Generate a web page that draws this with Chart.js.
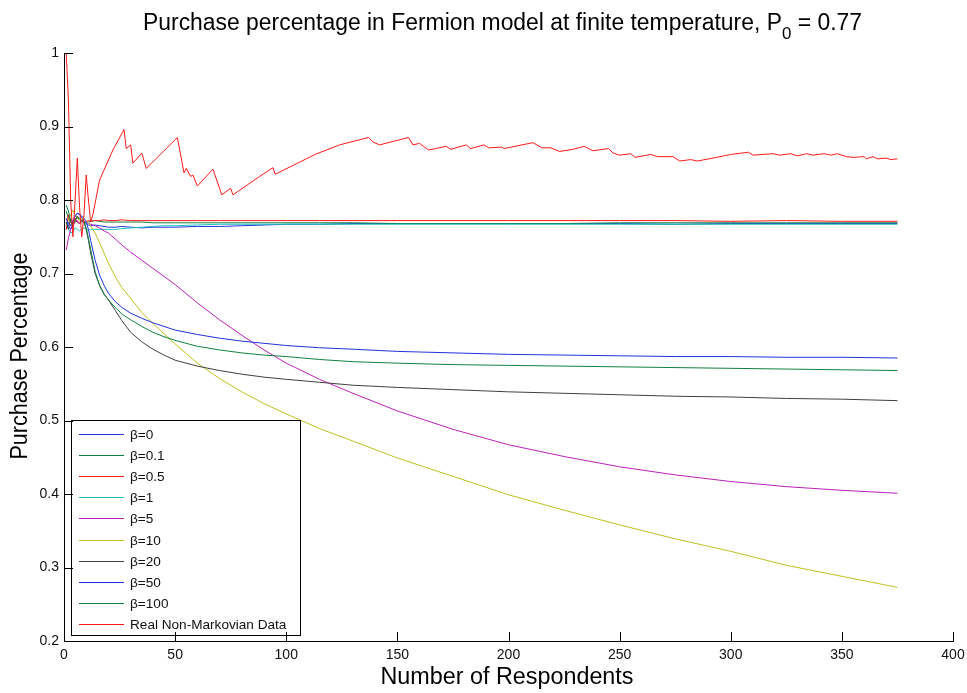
<!DOCTYPE html>
<html>
<head>
<meta charset="utf-8">
<script src="https://cdn.jsdelivr.net/npm/chart.js@4.4.1/dist/chart.umd.min.js"></script>
<style>
  html, body { margin: 0; padding: 0; background: #fff; }
</style>
</head>
<body>
<canvas id="chart" width="967" height="693"></canvas>
<script>
// respondent counts where the model curves are sampled
const respondents = [1,2,3,4,5,6,7,8,9,10,11,12,14,16,18,20,23,26,30,35,40,45,50,60,70,80,90,100,115,130,150,175,200,225,250,275,300,325,350,375]

const beta0   = [0.760,0.770,0.765,0.772,0.778,0.782,0.781,0.776,0.770,0.768,0.766,0.765,0.766,0.765,0.764,0.763,0.763,0.764,0.763,0.762,0.763,0.763,0.763,0.764,0.764,0.765,0.766,0.767,0.767,0.768,0.768,0.768,0.768,0.768,0.768,0.767,0.768,0.768,0.768,0.768]
const beta01  = [0.785,0.775,0.770,0.768,0.772,0.770,0.768,0.770,0.771,0.769,0.770,0.771,0.772,0.771,0.770,0.770,0.770,0.770,0.770,0.770,0.769,0.769,0.769,0.769,0.769,0.769,0.769,0.769,0.769,0.769,0.768,0.768,0.768,0.768,0.769,0.769,0.769,0.769,0.769,0.769]
const beta05  = [0.760,0.780,0.770,0.765,0.775,0.770,0.768,0.773,0.770,0.771,0.772,0.771,0.772,0.772,0.773,0.772,0.772,0.773,0.772,0.772,0.772,0.772,0.772,0.772,0.772,0.772,0.772,0.772,0.772,0.772,0.772,0.772,0.772,0.772,0.772,0.772,0.771,0.772,0.771,0.771]
const beta1   = [0.770,0.760,0.755,0.757,0.762,0.760,0.758,0.760,0.762,0.760,0.759,0.760,0.760,0.760,0.760,0.760,0.760,0.761,0.762,0.763,0.764,0.765,0.765,0.766,0.767,0.767,0.767,0.767,0.767,0.767,0.767,0.767,0.767,0.767,0.767,0.767,0.767,0.767,0.767,0.767]
const beta5   = [0.732,0.748,0.760,0.765,0.770,0.772,0.768,0.772,0.770,0.770,0.768,0.767,0.765,0.762,0.758,0.755,0.747,0.739,0.729,0.718,0.707,0.696,0.685,0.660,0.637,0.616,0.596,0.578,0.556,0.537,0.513,0.488,0.467,0.451,0.437,0.426,0.417,0.410,0.405,0.401]
const beta10  = [0.765,0.772,0.780,0.786,0.780,0.775,0.772,0.775,0.772,0.770,0.768,0.765,0.755,0.742,0.728,0.714,0.696,0.681,0.666,0.647,0.632,0.618,0.604,0.578,0.557,0.539,0.523,0.509,0.489,0.472,0.449,0.424,0.399,0.378,0.358,0.339,0.322,0.303,0.288,0.273]
const beta20  = [0.770,0.760,0.775,0.768,0.772,0.778,0.775,0.772,0.770,0.760,0.745,0.728,0.700,0.684,0.672,0.664,0.650,0.636,0.620,0.607,0.597,0.589,0.582,0.574,0.568,0.563,0.559,0.556,0.552,0.548,0.545,0.542,0.539,0.537,0.535,0.533,0.532,0.530,0.529,0.527]
const beta50  = [0.775,0.765,0.760,0.770,0.778,0.782,0.780,0.778,0.775,0.770,0.760,0.745,0.718,0.698,0.684,0.673,0.662,0.654,0.646,0.639,0.633,0.628,0.623,0.617,0.612,0.608,0.605,0.602,0.599,0.597,0.594,0.592,0.590,0.589,0.588,0.587,0.587,0.586,0.586,0.585]
const beta100 = [0.793,0.785,0.770,0.765,0.772,0.776,0.774,0.772,0.770,0.762,0.748,0.733,0.703,0.684,0.672,0.664,0.654,0.645,0.637,0.628,0.620,0.614,0.609,0.601,0.596,0.592,0.589,0.587,0.583,0.580,0.578,0.576,0.575,0.574,0.573,0.572,0.571,0.570,0.569,0.568]

// survey data, cumulative purchase share
const realX = [1,2,3,4,5,6,7,8,9,10,11,12,13,16,22,27,28,30,31,35,37,51,54,55,57,58,60,67,71,75,76,88,94,95,113,124,137,139,142,155,157,160,164,172,174,181,183,189,191,197,198,211,215,219,223,229,234,238,245,247,250,255,257,264,267,274,277,282,285,292,300,308,310,319,322,327,330,334,337,342,345,348,352,355,360,361,364,366,370,372,375]
const realY = [1.000,0.935,0.800,0.750,0.800,0.857,0.790,0.750,0.780,0.834,0.800,0.770,0.780,0.827,0.868,0.896,0.870,0.875,0.850,0.864,0.843,0.885,0.837,0.843,0.832,0.834,0.819,0.842,0.807,0.816,0.807,0.832,0.844,0.835,0.862,0.875,0.885,0.879,0.875,0.885,0.875,0.877,0.868,0.873,0.869,0.875,0.870,0.875,0.871,0.872,0.870,0.878,0.871,0.871,0.866,0.869,0.873,0.867,0.870,0.864,0.861,0.863,0.858,0.862,0.859,0.859,0.853,0.855,0.853,0.857,0.862,0.865,0.861,0.863,0.861,0.863,0.860,0.863,0.861,0.863,0.861,0.863,0.859,0.858,0.859,0.856,0.859,0.856,0.857,0.855,0.856]

const seriesNames = ['β=0','β=0.1','β=0.5','β=1','β=5','β=10','β=20','β=50','β=100','Real Non-Markovian Data']
const seriesColors = ['#2233dd','#118040','#ff1a1a','#20c0c0','#bb22bb','#c0c020','#404040','#2233dd','#118040','#ff1a1a']

const xTickValues = [0,50,100,150,200,250,300,350,400]
const yTickValues = [0.2,0.3,0.4,0.5,0.6,0.7,0.8,0.9,1]

const modelSeries = [beta0, beta01, beta05, beta1, beta5, beta10, beta20, beta50, beta100]

function toPoints(xs, ys) {
    return xs.map((x, i) => ({x: x, y: ys[i]}))
}

const datasets = modelSeries.map((ys, i) => ({
    label: seriesNames[i],
    data: toPoints(respondents, ys),
    borderColor: seriesColors[i],
    order: 20 - i
}))
datasets.push({
    label: seriesNames[9],
    data: toPoints(realX, realY),
    borderColor: seriesColors[9],
    order: 1
})
datasets.forEach(d => {
    d.showLine = true
    d.borderWidth = 1
    d.pointRadius = 0
    d.tension = 0
})

const FONT = '"Liberation Sans", Arial, sans-serif'

// text squeezed to a given width, like the narrow Helvetica of the old plots
function drawFitted(ctx, text, cx, cy, width, font) {
    ctx.font = font
    const w = ctx.measureText(text).width
    ctx.save()
    ctx.translate(cx, cy)
    ctx.scale(width / w, 1)
    ctx.textAlign = 'center'
    ctx.textBaseline = 'middle'
    ctx.fillText(text, 0, 0)
    ctx.restore()
}

const matlabLook = {
    id: 'matlabLook',
    afterDatasetsDraw(chart) {
        const ctx = chart.ctx
        // legend box in the lower left corner
        const left = 71.5, top = 420.5, w = 229, h = 215
        ctx.save()
        ctx.fillStyle = '#fff'
        ctx.fillRect(left, top, w, h)
        ctx.strokeStyle = '#000'
        ctx.lineWidth = 1
        ctx.strokeRect(left, top, w, h)
        ctx.font = '13.6px ' + FONT
        ctx.textBaseline = 'middle'
        ctx.fillStyle = '#111'
        chart.data.datasets.forEach((d, i) => {
            const yy = Math.round(433.5 + i * 21.2) + 0.5
            ctx.strokeStyle = d.borderColor
            ctx.beginPath()
            ctx.moveTo(79, yy)
            ctx.lineTo(124, yy)
            ctx.stroke()
            ctx.fillText(d.label, 130, yy + 0.5)
        })
        ctx.restore()
    },
    afterDraw(chart) {
        const {ctx, chartArea: a, scales: {x, y}} = chart
        ctx.save()
        // tick marks point into the plot
        ctx.strokeStyle = '#000'
        ctx.lineWidth = 1
        ctx.beginPath()
        xTickValues.forEach(v => {
            const px = Math.round(x.getPixelForValue(v)) + 0.5
            ctx.moveTo(px, a.bottom)
            ctx.lineTo(px, a.bottom - 9)
        })
        yTickValues.forEach(v => {
            const py = Math.round(y.getPixelForValue(v)) + 0.5
            ctx.moveTo(a.left, py)
            ctx.lineTo(a.left + 9, py)
        })
        ctx.stroke()

        ctx.fillStyle = '#000'
        // title with subscript P0
        const big = '23px ' + FONT, small = '17px ' + FONT
        const head = 'Purchase percentage in Fermion model at finite temperature, P'
        const sub = '0'
        const tail = ' = 0.77'
        ctx.font = big
        const wHead = ctx.measureText(head).width
        const wTail = ctx.measureText(tail).width
        ctx.font = small
        const wSub = ctx.measureText(sub).width
        const natural = wHead + wSub + wTail
        const target = 719
        const sx = target / natural
        ctx.translate(143, 0)
        ctx.scale(sx, 1)
        ctx.textBaseline = 'alphabetic'
        ctx.textAlign = 'left'
        ctx.font = big
        ctx.fillText(head, 0, 30)
        ctx.font = small
        ctx.fillText(sub, wHead, 39)
        ctx.font = big
        ctx.fillText(tail, wHead + wSub, 30)
        ctx.restore()

        ctx.save()
        ctx.fillStyle = '#000'
        drawFitted(ctx, 'Number of Respondents', 507, 678, 253, '23px ' + FONT)
        ctx.translate(21, 356)
        ctx.rotate(-Math.PI / 2)
        drawFitted(ctx, 'Purchase Percentage', 0, 0, 207, '23px ' + FONT)
        ctx.restore()
    }
}

new Chart(document.getElementById('chart'), {
    type: 'scatter',
    data: {datasets: datasets},
    options: {
        responsive: false,
        animation: false,
        events: [],
        layout: {padding: {top: 53, right: 14, left: 0, bottom: 0}},
        plugins: {
            legend: {display: false},
            tooltip: {enabled: false},
            title: {display: false}
        },
        scales: {
            x: {
                type: 'linear',
                min: 0,
                max: 400,
                afterBuildTicks: (scale) => { scale.ticks = xTickValues.map(v => ({value: v})) },
                afterFit: (scale) => {
                    scale.height = 52
                    scale.paddingLeft = 0
                    scale.paddingRight = 0
                },
                grid: {display: false, drawTicks: false},
                border: {display: true, color: '#000', width: 1},
                ticks: {
                    color: '#111',
                    font: {family: FONT, size: 14},
                    padding: 6,
                    maxRotation: 0,
                    callback: (v) => String(v)
                }
            },
            y: {
                type: 'linear',
                min: 0.2,
                max: 1,
                afterBuildTicks: (scale) => { scale.ticks = yTickValues.map(v => ({value: v})) },
                afterFit: (scale) => {
                    scale.width = 64
                    scale.paddingTop = 0
                    scale.paddingBottom = 0
                },
                grid: {display: false, drawTicks: false},
                border: {display: true, color: '#000', width: 1},
                ticks: {
                    color: '#111',
                    font: {family: FONT, size: 14},
                    padding: 5,
                    callback: (v) => String(Number(v.toFixed(1)))
                }
            }
        }
    },
    plugins: [matlabLook]
})
</script>
</body>
</html>
